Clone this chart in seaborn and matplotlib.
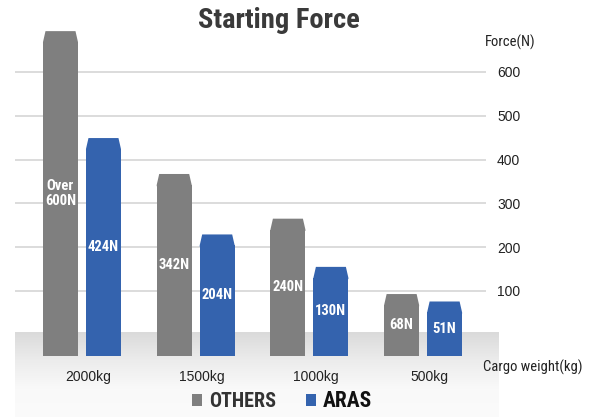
import matplotlib
matplotlib.use('Agg')
import matplotlib.pyplot as plt
import numpy as np
import pandas as pd
import seaborn as sns
from matplotlib.patches import Polygon, Patch
from matplotlib.colors import LinearSegmentedColormap

# ----- Data -----

weights = ['2000kg', '1500kg', '1000kg', '500kg']
makers = ['OTHERS', 'ARAS']
others_force = [668, 342, 240, 68]   # first bar is "over 600", drawn above the 600 line
aras_force = [424, 204, 130, 51]
others_labels = ['Over\n600N', '342N', '240N', '68N']
aras_labels = ['424N', '204N', '130N', '51N']
y_ticks = [100, 200, 300, 400, 500, 600]

df = pd.DataFrame({
    'weight': weights * 2,
    'force': others_force + aras_force,
    'maker': [makers[0]] * len(weights) + [makers[1]] * len(weights),
})

# ----- Style -----

sns.set_theme(style = 'white')
plt.rcParams['font.family'] = ['Liberation Sans', 'DejaVu Sans']
narrow = ['Roboto Condensed', 'DejaVu Sans']

grey = '#7f7f7f'
blue = '#3463ae'
palette = {'OTHERS': grey, 'ARAS': blue}

W, H = 590, 417
fig = plt.figure(figsize = (W / 100, H / 100), dpi = 100)

# -- Grey gradient floor --

bg_ax = fig.add_axes([15 / W, 0, 484 / W, 85 / H], zorder = 0)
floor_cmap = LinearSegmentedColormap.from_list('floor', ['#dadada', '#ececec', '#f9f9f9', '#fbfbfb'])
bg_ax.imshow(np.linspace(0, 1, 256).reshape(-1, 1), aspect = 'auto', cmap = floor_cmap)
bg_ax.axis('off')

# -- Main axes --

ax = fig.add_axes([15 / W, (H - 356) / H, 471 / W, 331 / H], zorder = 1)
ax.set_facecolor('none')

sns.barplot(data = df, x = 'weight', y = 'force', hue = 'maker', order = weights, hue_order = makers,
            palette = palette, width = 0.756, gap = 0.186, saturation = 1, linewidth = 0, legend = False, ax = ax)

base = -48.4
chamfer = 25
ax.set_ylim(base, 707)
ax.set_xlim(-0.589, 3.553)

for container, labels in zip(ax.containers, [others_labels, aras_labels]):
    for bar, label in zip(container.patches, labels):
        h = bar.get_height()
        x0 = bar.get_x(); x1 = x0 + bar.get_width()
        bar.set_y(base); bar.set_height(h - base)
        inset = 0.022
        ax.add_patch(Polygon([(x0, h - 3), (x0, h), (x0 + inset, h + chamfer), (x1 - inset, h + chamfer), (x1, h), (x1, h - 3)],
                             closed = True, facecolor = bar.get_facecolor(), edgecolor = 'none', zorder = bar.get_zorder()))
        ax.text((x0 + x1) / 2, (base + h + chamfer) / 2, label, color = 'white', fontsize = 10.5,
                fontweight = 'bold', family = narrow, ha = 'center', va = 'center', linespacing = 1.15, zorder = 5)

# -- Axes aesthetics --

ax.set_yticks(y_ticks)
ax.yaxis.tick_right()
ax.tick_params(axis = 'y', length = 0, pad = 8, labelsize = 10, labelcolor = '#222222')
ax.set_xticks(np.arange(len(weights)) + 0.053, weights)
ax.tick_params(axis = 'x', length = 0, pad = 10, labelsize = 10, labelcolor = '#222222')
ax.set_xlabel(''); ax.set_ylabel('')
ax.grid(axis = 'y', color = '#d9d9d9', linewidth = 1.3)
ax.set_axisbelow(True)
for s in ax.spines.values():
    s.set_visible(False)

# -- Titles and axis captions --

fig.text(279 / W, 1 - 21 / H, 'Starting Force', fontsize = 20.5, fontweight = 'bold', family = narrow,
         color = '#3a3a3a', ha = 'center', va = 'center')
fig.text(485 / W, 1 - 42 / H, 'Force(N)', fontsize = 10.5, family = narrow, color = '#222222', ha = 'left', va = 'center')
fig.text(483 / W, 1 - 367 / H, 'Cargo weight(kg)', fontsize = 10.5, family = narrow, color = '#222222', ha = 'left', va = 'center')

# -- Legend --

handles = [Patch(facecolor = palette[m], edgecolor = 'none') for m in makers]
leg = fig.legend(handles, makers, loc = 'lower center', bbox_to_anchor = (282 / W, -0.012), ncol = 2, frameon = False,
                 prop = {'family': narrow, 'weight': 'bold', 'size': 14.5}, handlelength = 0.52, handleheight = 0.52,
                 handletextpad = 0.36, columnspacing = 1.45, borderpad = 0)
leg.get_texts()[0].set_color('#333333')
leg.get_texts()[1].set_color('#111111')
leg.get_texts()[1].set_fontsize(15.5)

fig.savefig('out.png', dpi = 100)
